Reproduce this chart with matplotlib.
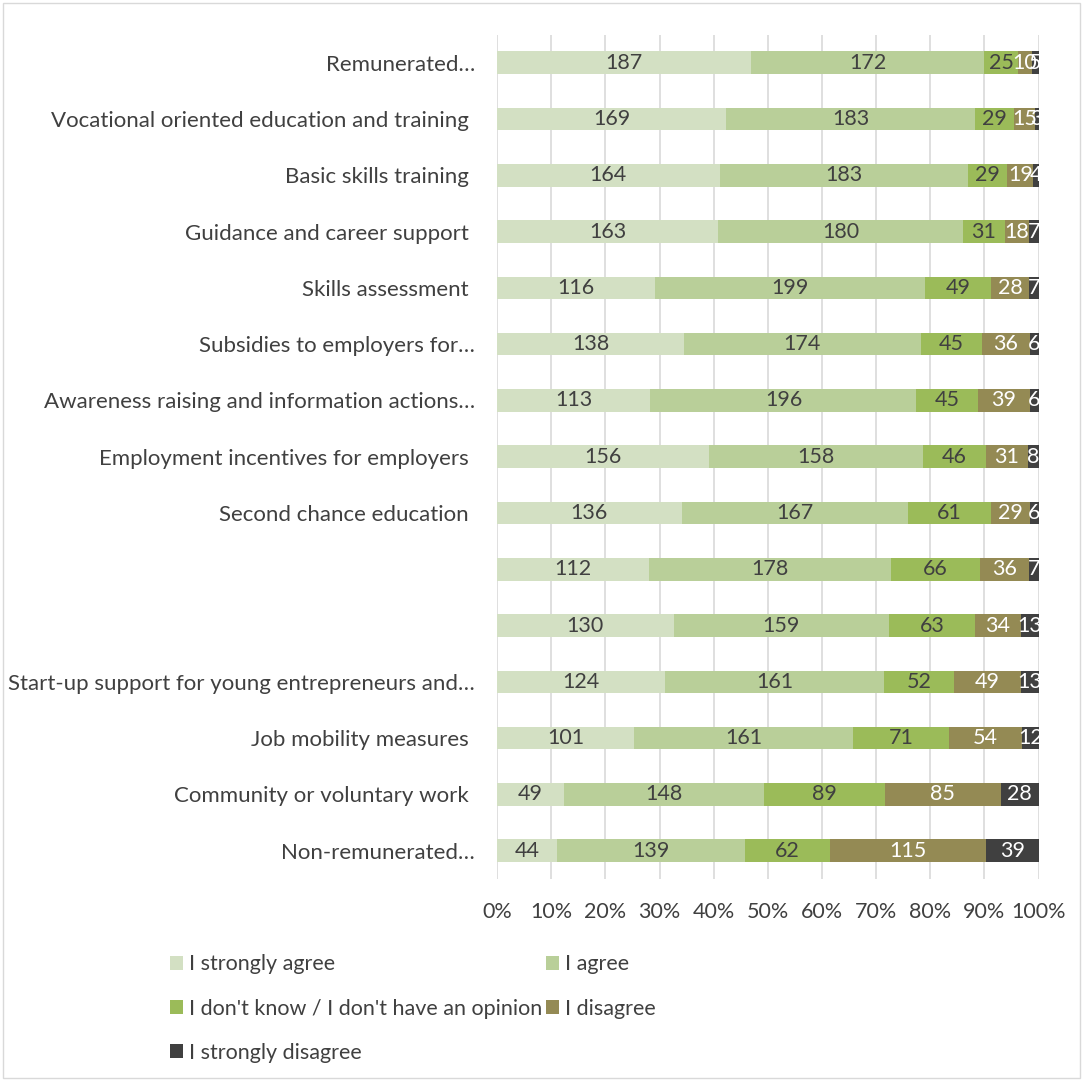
import numpy as np
import matplotlib.pyplot as plt
from matplotlib.patches import Rectangle

plt.rcParams['font.family'] = ['Lato', 'DejaVu Sans']

# Data (top to bottom)
categories = ['Remunerated…', 'Vocational oriented education and training ',
              'Basic skills training ', 'Guidance and career support ',
              'Skills assessment ', 'Subsidies to employers for…',
              'Awareness raising and information actions…',
              'Employment incentives for employers ', 'Second chance education ',
              '', '', 'Start-up support for young entrepreneurs and…',
              'Job mobility measures ', 'Community or voluntary work ',
              'Non-remunerated…']
strongly_agree = [187, 169, 164, 163, 116, 138, 113, 156, 136, 112, 130, 124, 101, 49, 44]
agree = [172, 183, 183, 180, 199, 174, 196, 158, 167, 178, 159, 161, 161, 148, 139]
dont_know = [25, 29, 29, 31, 49, 45, 45, 46, 61, 66, 63, 52, 71, 89, 62]
disagree = [10, 15, 19, 18, 28, 36, 39, 31, 29, 36, 34, 49, 54, 85, 115]
strongly_disagree = [5, 3, 4, 7, 7, 6, 6, 8, 6, 7, 13, 13, 12, 28, 39]

series = ['I strongly agree', 'I agree', "I don't know / I don't have an opinion",
          'I disagree', 'I strongly disagree']
colors = ['#D3E0C3', '#B9CF99', '#9BBB59', '#948A54', '#404040']
text_colors = ['#404040', '#404040', '#404040', 'white', 'white']

data = np.array([strongly_agree, agree, dont_know, disagree, strongly_disagree], dtype=float)
totals = data.sum(axis=0)
pct = data / totals

fig = plt.figure(figsize=(10.83, 10.81), dpi=100)
ax = fig.add_axes([0.459, 0.187, 0.5, 0.781])

y = np.arange(len(categories))
left = np.zeros(len(categories))
for i, name in enumerate(series):
    bars = ax.barh(y, pct[i], left=left, height=0.4, color=colors[i], label=name, zorder=3)
    for j, b in enumerate(bars):
        ax.text(left[j] + pct[i][j] / 2, y[j], f'{int(data[i][j])}', ha='center', va='center',
                color=text_colors[i], fontsize=15.5, zorder=4, clip_on=True)
    left += pct[i]

ax.set_ylim(len(categories) - 0.5, -0.5)
ax.set_xlim(0, 1)
ax.set_yticks(y)
ax.set_yticklabels(categories, fontsize=16, color='#404040')
ax.set_xticks(np.linspace(0, 1, 11))
ax.set_xticklabels([f'{k}%' for k in range(0, 101, 10)], fontsize=15.5, color='#404040')
ax.tick_params(axis='y', length=0, pad=16)
ax.tick_params(axis='x', length=0, pad=17)
ax.grid(axis='x', color='#D9D9D9', linewidth=1.2, zorder=0)
for s in ax.spines.values():
    s.set_visible(False)

handles, labels = ax.get_legend_handles_labels()
order = [0, 2, 4, 1, 3]
fig.legend([handles[k] for k in order], [labels[k] for k in order], ncol=2,
           loc='upper left', bbox_to_anchor=(0.139, 0.135), frameon=False,
           fontsize=15.5, handlelength=0.6, handleheight=0.6, handletextpad=0.3,
           columnspacing=0.15, labelspacing=1.12, labelcolor='#404040')

fig.patches.append(Rectangle((0.003, 0.003), 0.994, 0.994, transform=fig.transFigure,
                             fill=False, edgecolor='#D9D9D9', linewidth=1))

fig.savefig('out.png', dpi=100, facecolor='white')
